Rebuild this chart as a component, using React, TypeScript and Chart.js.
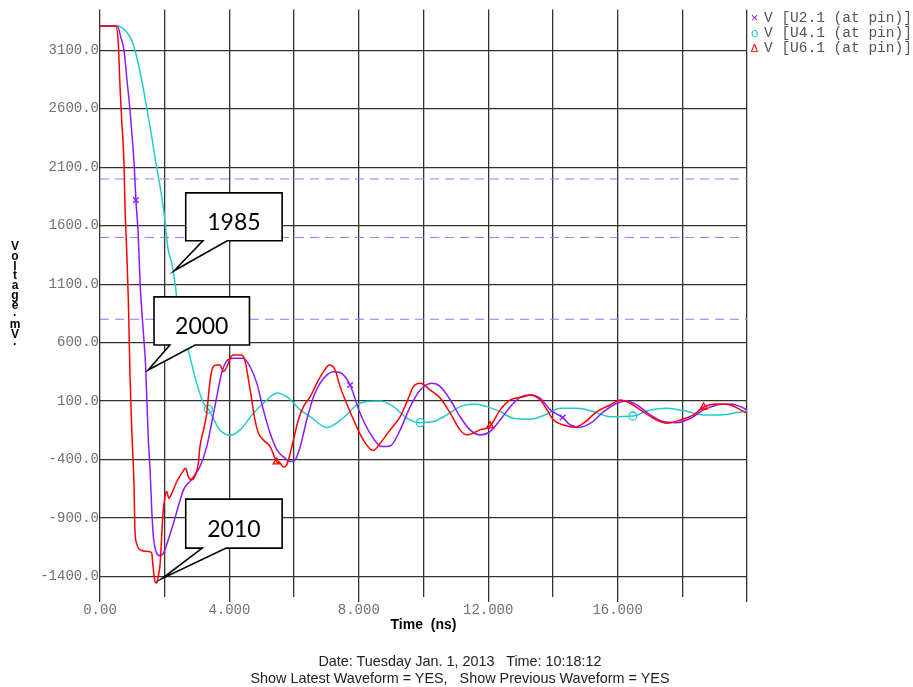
import React, { useEffect, useRef } from 'react';
import { Chart, registerables } from 'chart.js';

Chart.register(...registerables);

// ---- data (time in ns, voltage in mV) ----
const purpleTime = [0, 0.536, 0.64, 0.742, 0.825, 0.928, 1.01, 1.06, 1.11, 1.18, 1.24, 1.34, 1.41, 1.45, 1.49, 1.55, 1.6, 1.65, 1.75, 1.86, 1.96, 2.11, 2.27, 2.42, 2.58, 2.68, 2.78, 2.89, 3.09, 3.3, 3.45, 3.61, 3.76, 3.92, 4.12, 4.43, 4.64, 4.85, 5.05, 5.26, 5.47, 5.72, 5.88, 6.03, 6.19, 6.39, 6.6, 6.8, 7.01, 7.22, 7.42, 7.73, 8.04, 8.35, 8.71, 8.97, 9.28, 9.59, 9.9, 10.26, 10.52, 10.83, 11.13, 11.44, 11.75, 12.06, 12.37, 12.68, 12.99, 13.3, 13.61, 13.92, 14.3, 14.54, 14.85, 15.16, 15.57, 15.98, 16.29, 16.6, 17.01, 17.42, 17.84, 18.25, 18.66, 19.07, 19.49, 19.8, 20];
const purpleMv = [3308, 3308, 3214, 3100, 2872, 2587, 2303, 2103, 1819, 1534, 1107, 690, 400, 100, -200, -500, -830, -1058, -1200, -1223, -1200, -1086, -944, -801, -659, -616, -588, -545, -460, -289, -89, 138, 338, 445, 466, 466, 394, 252, 25, -175, -317, -388, -417, -403, -289, -61, 138, 252, 323, 352, 345, 238, -4, -175, -289, -283, -146, 53, 195, 252, 224, 110, -33, -146, -189, -160, -61, 53, 133, 153, 124, 25, -40, -104, -123, -89, 10, 82, 101, 67, -18, -75, -84, -47, 25, 67, 76, 53, 25];

const cyanTime = [0, 0.536, 0.773, 0.98, 1.135, 1.29, 1.44, 1.6, 1.73, 1.86, 1.98, 2.06, 2.11, 2.22, 2.32, 2.42, 2.58, 2.78, 2.99, 3.2, 3.35, 3.71, 4.02, 4.33, 4.74, 5.16, 5.47, 5.77, 6.19, 6.5, 7.01, 7.53, 7.94, 8.25, 8.66, 9.07, 9.49, 9.9, 10.31, 10.72, 11.13, 11.55, 11.96, 12.37, 12.78, 13.3, 13.82, 14.23, 14.74, 15.26, 15.77, 16.47, 17.01, 17.53, 18.04, 18.66, 19.18, 19.69, 20];
const cyanMv = [3308, 3308, 3271, 3185, 3043, 2844, 2616, 2359, 2132, 1932, 1705, 1505, 1391, 1278, 1107, 879, 708, 480, 252, 82, 30, -146, -192, -146, -4, 110, 170, 138, 25, -33, -125, -40, 67, 96, 101, 53, -47, -84, -75, -18, 53, 76, 53, 10, -47, -55, -10, 39, 39, 10, -33, -27, 25, 39, 19, -18, -18, 2, 16];

const redTime = [0, 0.49, 0.566, 0.619, 0.671, 0.742, 0.773, 0.804, 0.825, 0.876, 0.93, 0.97, 1.01, 1.05, 1.08, 1.13, 1.24, 1.49, 1.6, 1.63, 1.7, 1.75, 1.8, 1.86, 1.89, 1.94, 2.01, 2.06, 2.13, 2.22, 2.35, 2.53, 2.65, 2.73, 2.84, 2.97, 3.04, 3.09, 3.2, 3.3, 3.35, 3.42, 3.5, 3.61, 3.71, 3.81, 3.92, 4.02, 4.12, 4.38, 4.49, 4.59, 4.69, 4.79, 4.9, 5.05, 5.26, 5.41, 5.46, 5.57, 5.67, 5.77, 5.88, 5.98, 6.13, 6.29, 6.5, 6.7, 6.91, 7.09, 7.27, 7.42, 7.58, 7.84, 8.14, 8.45, 8.66, 8.97, 9.28, 9.49, 9.69, 9.9, 10.21, 10.52, 10.83, 11.13, 11.34, 11.75, 12.06, 12.37, 12.68, 13.09, 13.3, 13.61, 13.82, 14.02, 14.33, 14.69, 14.95, 15.36, 15.77, 16.08, 16.39, 16.7, 17.11, 17.53, 17.94, 18.35, 18.66, 19.07, 19.49, 19.8, 20];
const redMv = [3308, 3308, 3157, 2786, 2502, 2132, 1761, 1537, 1391, 964, 300, -50, -330, -600, -1000, -1114, -1172, -1186, -1200, -1285, -1442, -1456, -1400, -1285, -1143, -887, -716, -673, -730, -687, -602, -516, -474, -545, -573, -516, -431, -289, -146, -4, 138, 309, 394, 409, 409, 352, 394, 466, 494, 494, 437, 281, 110, -61, -175, -232, -289, -388, -420, -431, -465, -445, -345, -232, -61, 53, 138, 252, 352, 409, 366, 224, 110, -61, -232, -323, -260, -146, -33, 96, 224, 252, 195, 124, -4, -146, -189, -146, -112, 25, 110, 138, 153, 110, 25, -61, -104, -123, -89, 10, 67, 110, 82, 25, -47, -89, -61, -18, 50, 76, 67, 25, -4];

const purpleMarkers = [1.11, 7.73, 14.3];
const cyanMarkers = [3.35, 9.9, 16.47];
const redMarkers = [5.46, 12.06, 18.66];

const thresholdMv = [2000, 1500, 800];

const yTicks = [-1400, -900, -400, 100, 600, 1100, 1600, 2100, 2600, 3100];
const xTicks = [0, 2, 4, 6, 8, 10, 12, 14, 16, 18, 20];
const xLabelTicks = [0, 4, 8, 12, 16];

const legendLabels = ['V [U2.1 (at pin)]', 'V [U4.1 (at pin)]', 'V [U6.1 (at pin)]'];
const legendSymbols = ['×', 'o', 'Δ'];
const seriesColors = ['#8c1aff', '#22cccc', '#ff0000'];

const calloutLabels = ['1985', '2000', '2010'];
const calloutTipNs = [2.29, 1.49, 1.91];
const calloutTipMv = [1215, 366, -1419];
const calloutBoxLeftNs = [2.65, 1.67, 2.65];
const calloutBoxRightNs = [5.63, 4.62, 5.63];
const calloutBoxTopMv = [1881, 992, -738];
const calloutBoxBottomMv = [1471, 580, -1157];
const calloutTailStartNs = [3.18, 2.16, 3.16];
const calloutTailEndNs = [3.93, 2.94, 3.9];

const yTitleChars = ['V', 'o', 'l', 't', 'a', 'g', 'e', '·', 'm', 'V', '·'];
const footerLines = ['Date: Tuesday Jan. 1, 2013   Time: 10:18:12', 'Show Latest Waveform = YES,   Show Previous Waveform = YES'];

const toPoints = (t: number[], v: number[]) => t.map((x, i) => ({ x, y: v[i] }));

const calloutPlugin = {
  id: 'callouts',
  afterDatasetsDraw(chart: any) {
    const { ctx, scales } = chart;
    const xs = scales.x;
    const ys = scales.y;
    ctx.save();
    calloutLabels.forEach((label, i) => {
      const l = xs.getPixelForValue(calloutBoxLeftNs[i]);
      const r = xs.getPixelForValue(calloutBoxRightNs[i]);
      const t = ys.getPixelForValue(calloutBoxTopMv[i]);
      const b = ys.getPixelForValue(calloutBoxBottomMv[i]);
      const tx = xs.getPixelForValue(calloutTipNs[i]);
      const ty = ys.getPixelForValue(calloutTipMv[i]);
      const b1 = xs.getPixelForValue(calloutTailStartNs[i]);
      const b2 = xs.getPixelForValue(calloutTailEndNs[i]);
      ctx.beginPath();
      ctx.moveTo(l, t);
      ctx.lineTo(r, t);
      ctx.lineTo(r, b);
      ctx.lineTo(b2, b);
      ctx.lineTo(tx, ty);
      ctx.lineTo(b1, b);
      ctx.lineTo(l, b);
      ctx.closePath();
      ctx.fillStyle = '#ffffff';
      ctx.fill();
      ctx.lineWidth = 1.6;
      ctx.strokeStyle = '#000000';
      ctx.lineJoin = 'miter';
      ctx.stroke();
      ctx.fillStyle = '#000000';
      ctx.font = '23px Lato';
      ctx.textAlign = 'center';
      ctx.textBaseline = 'alphabetic';
      ctx.fillText(label, (l + r) / 2, t + 0.78 * (b - t));
    });
    ctx.restore();
  },
};

const markerRadius = (list: number[]) => (c: any) => (c.raw && list.includes(c.raw.x) ? 4 : 0);

export default function App() {
  const canvasRef = useRef<HTMLCanvasElement | null>(null);

  useEffect(() => {
    const canvas = canvasRef.current;
    if (!canvas) return;
    const gridColor = '#333333';
    const seriesDefs = [
      { label: legendLabels[2], t: redTime, v: redMv, color: seriesColors[2], style: 'triangle', markers: redMarkers },
      { label: legendLabels[0], t: purpleTime, v: purpleMv, color: seriesColors[0], style: 'crossRot', markers: purpleMarkers },
      { label: legendLabels[1], t: cyanTime, v: cyanMv, color: seriesColors[1], style: 'circle', markers: cyanMarkers },
    ];
    const datasets: any[] = seriesDefs.map((s) => ({
      label: s.label,
      data: toPoints(s.t, s.v),
      borderColor: s.color,
      borderWidth: 1.5,
      cubicInterpolationMode: 'monotone',
      pointStyle: s.style,
      pointRadius: markerRadius(s.markers),
      pointHoverRadius: 0,
      pointBorderColor: s.color,
      pointBackgroundColor: 'rgba(0,0,0,0)',
      pointBorderWidth: 1.3,
      fill: false,
    }));
    thresholdMv.forEach((v) => {
      datasets.push({
        label: 'threshold ' + v,
        data: [
          { x: 0, y: v },
          { x: 20, y: v },
        ],
        borderColor: '#8080ff',
        borderWidth: 1,
        borderDash: [9, 6],
        pointRadius: 0,
        fill: false,
      });
    });

    const chart = new Chart(canvas, {
      type: 'line',
      data: { datasets },
      options: {
        responsive: false,
        animation: false,
        events: [],
        layout: { padding: { left: 0, right: 166, top: 9, bottom: 0 } },
        plugins: { legend: { display: false }, tooltip: { enabled: false } },
        scales: {
          x: {
            type: 'linear',
            min: 0,
            max: 20,
            afterBuildTicks: (s: any) => {
              s.ticks = xTicks.map((v) => ({ value: v }));
            },
            afterFit: (s: any) => {
              s.height = 90;
            },
            ticks: {
              autoSkip: false,
              maxRotation: 0,
              minRotation: 0,
              padding: 0,
              color: '#707070',
              font: { family: '"Liberation Mono", monospace', size: 14 },
              callback: (v: any) => (xLabelTicks.includes(Number(v)) ? (Number(v) === 0 ? '0.00' : Number(v).toFixed(3)) : ''),
            },
            grid: {
              color: gridColor,
              lineWidth: 1.3,
              tickLength: 5,
              tickColor: (c: any) =>
                c.tick && (xLabelTicks.includes(c.tick.value) || c.tick.value === 20) ? gridColor : 'rgba(0,0,0,0)',
            },
            border: { display: false },
            title: {
              display: true,
              text: 'Time  (ns)',
              color: '#000',
              font: { family: '"Liberation Sans", Arial, sans-serif', size: 14, weight: 'bold' },
              padding: { top: 0, bottom: 53 },
            },
          },
          y: {
            type: 'linear',
            min: -1575,
            max: 3450,
            afterBuildTicks: (s: any) => {
              s.ticks = yTicks.map((v) => ({ value: v }));
            },
            afterFit: (s: any) => {
              s.width = 100;
            },
            ticks: {
              padding: 1,
              color: '#707070',
              font: { family: '"Liberation Mono", monospace', size: 14 },
              callback: (v: any) => Number(v).toFixed(1),
            },
            grid: { color: gridColor, lineWidth: 1.3, drawTicks: false },
            border: { display: false },
          },
        },
      } as any,
      plugins: [calloutPlugin],
    });
    return () => chart.destroy();
  }, []);

  return (
    <div style={{ position: 'fixed', left: 0, top: 0, width: 913, height: 687, background: '#fff', overflow: 'hidden' }}>
      <canvas ref={canvasRef} width={913} height={687} style={{ position: 'absolute', left: 0, top: 0, width: 913, height: 687 }} />
      {/* legend */}
      {legendLabels.map((lab, i) => (
        <div
          key={lab}
          style={{
            position: 'absolute',
            left: 747,
            top: 9.8 + i * 15,
            height: 15,
            lineHeight: '15px',
            whiteSpace: 'pre',
            font: '14.5px "Liberation Mono", monospace',
            color: '#555',
          }}
        >
          <span
            style={{
              display: 'inline-block',
              width: 15,
              textAlign: 'center',
              color: seriesColors[i],
              font: i === 2 ? '11px "Liberation Sans", sans-serif' : '13px "Liberation Sans", sans-serif',
            }}
          >
            {legendSymbols[i]}
          </span>
          <span style={{ marginLeft: 2 }}>{lab}</span>
        </div>
      ))}
      {/* y-axis title */}
      <div
        style={{
          position: 'absolute',
          left: 0,
          top: 242,
          width: 30,
          textAlign: 'center',
          font: 'bold 12px "Liberation Sans", Arial, sans-serif',
          lineHeight: '9.8px',
          color: '#000',
        }}
      >
        {yTitleChars.map((c, i) => (
          <div key={i}>{c}</div>
        ))}
      </div>
      {/* footer */}
      <div
        style={{
          position: 'absolute',
          left: 0,
          top: 653,
          width: 920,
          textAlign: 'center',
          font: '14.4px "Liberation Sans", Arial, sans-serif',
          lineHeight: '17.3px',
          color: '#222',
          whiteSpace: 'pre',
        }}
      >
        {footerLines.map((l) => (
          <div key={l}>{l}</div>
        ))}
      </div>
    </div>
  );
}
